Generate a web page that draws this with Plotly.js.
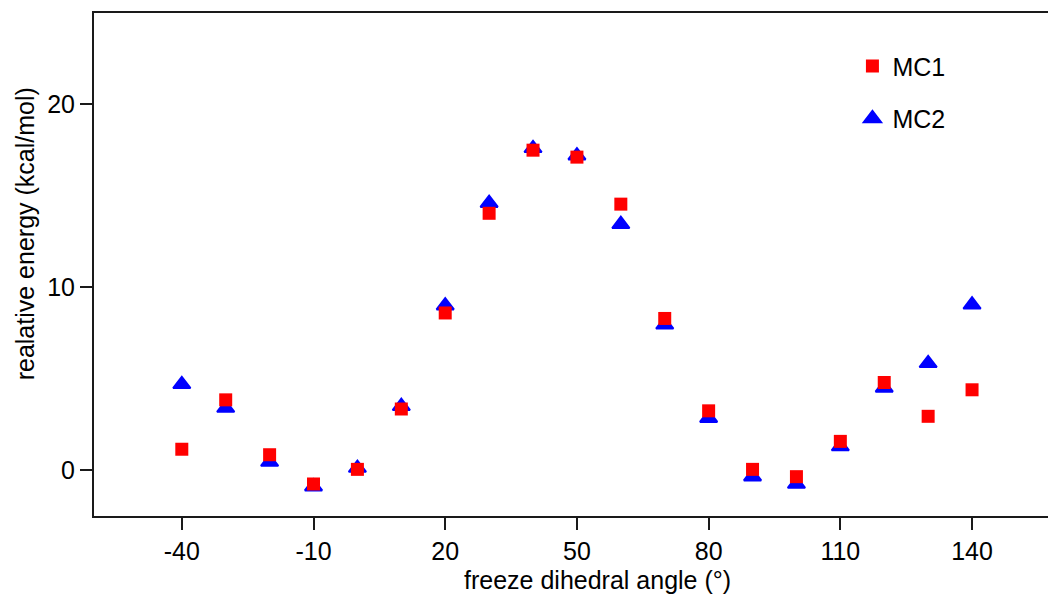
<!DOCTYPE html>
<html>
<head>
<meta charset="utf-8">
<script src="https://cdn.plot.ly/plotly-3.0.1.min.js"></script>
<style>
  html, body { margin: 0; padding: 0; background: #fff; }
  #chart { width: 1048px; height: 594px; }
</style>
</head>
<body>
<div id="chart"></div>
<script>
// Data
var angles = [-40, -30, -20, -10, 0, 10, 20, 30, 40, 50, 60, 70, 80, 90, 100, 110, 120, 130, 140];
var mc1 = [1.15, 3.85, 0.85, -0.75, 0.05, 3.35, 8.6, 14.05, 17.5, 17.12, 14.55, 8.3, 3.25, 0.05, -0.35, 1.58, 4.8, 2.95, 4.4];
var mc2 = [4.7, 3.4, 0.45, -0.9, 0.12, 3.5, 9.0, 14.6, 17.6, 17.2, 13.45, 7.95, 2.85, -0.35, -0.75, 1.3, 4.5, 5.85, 9.05];
var xTicks = [-40, -10, 20, 50, 80, 110, 140];
var yTicks = [0, 10, 20];
var seriesNames = ['MC1', 'MC2'];
var xTitle = 'freeze dihedral angle (°)';
var yTitle = 'realative energy (kcal/mol)';

var FONT = 'Liberation Sans, Arial, Helvetica, sans-serif';
var AXC = '#1a1a1a';

var traces = [
  {
    x: angles, y: mc2, name: seriesNames[1], type: 'scatter', mode: 'markers',
    legendgroup: 'b', legendrank: 2,
    marker: { symbol: 'triangle-up', size: 15, color: '#0000ff', line: { color: '#0000ff', width: 2 } }
  },
  {
    x: angles, y: mc1, name: seriesNames[0], type: 'scatter', mode: 'markers',
    legendgroup: 'a', legendrank: 1,
    marker: { symbol: 'square', size: 13, color: '#ff0000', line: { width: 0 } }
  }
];

var layout = {
  width: 1048, height: 594,
  margin: { l: 94, r: 0, t: 13, b: 78 },
  paper_bgcolor: '#ffffff', plot_bgcolor: '#ffffff',
  font: { family: FONT, size: 25, color: '#000000' },
  showlegend: true,
  legend: {
    x: 0.795, y: 0.94, xanchor: 'left', yanchor: 'top',
    traceorder: 'grouped', tracegroupgap: 17,
    font: { family: FONT, size: 25, color: '#000000' },
    bgcolor: 'rgba(0,0,0,0)', borderwidth: 0
  },
  xaxis: {
    range: [-60, 157.3], tickmode: 'array', tickvals: xTicks, ticktext: xTicks.map(String),
    showgrid: false, zeroline: false, showline: true, linecolor: AXC, linewidth: 2,
    mirror: true, ticks: 'outside', ticklen: 12, tickwidth: 2, tickcolor: AXC,
    tickfont: { family: FONT, size: 25, color: '#000000' }
  },
  yaxis: {
    range: [-2.5, 25], tickmode: 'array', tickvals: yTicks, ticktext: yTicks.map(String),
    showgrid: false, zeroline: false, showline: true, linecolor: AXC, linewidth: 2,
    mirror: false, ticks: 'outside', ticklen: 12, tickwidth: 2, tickcolor: AXC,
    tickfont: { family: FONT, size: 25, color: '#000000' }
  },
  annotations: [
    { text: xTitle, xref: 'paper', yref: 'paper', x: 0.528, y: -0.127, xanchor: 'center', yanchor: 'middle',
      showarrow: false, font: { family: FONT, size: 25, color: '#000000' } },
    { text: yTitle, xref: 'paper', yref: 'paper', x: -0.0723, y: 0.56, xanchor: 'center', yanchor: 'middle',
      textangle: -90, showarrow: false, font: { family: FONT, size: 25, color: '#000000' } }
  ]
};

Plotly.newPlot('chart', traces, layout, { displayModeBar: false, staticPlot: true });
</script>
</body>
</html>
